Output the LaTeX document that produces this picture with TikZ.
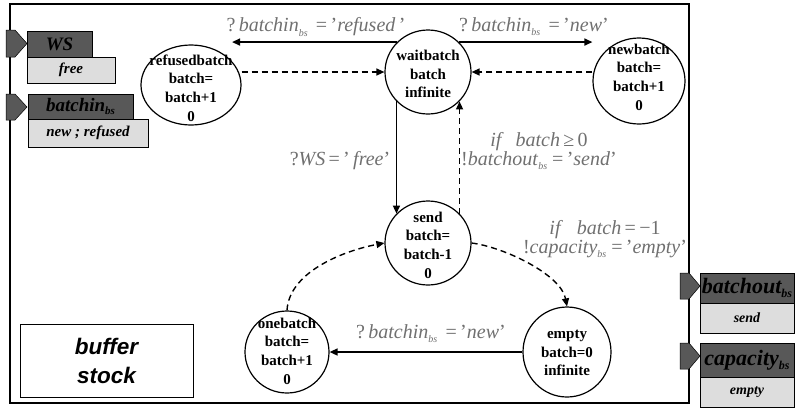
\documentclass[tikz,border=0pt]{standalone}
\usepackage{fontspec}
\setmainfont{Liberation Serif}
\setsansfont{Liberation Sans}
\usetikzlibrary{shapes.geometric,arrows.meta,calc}
\definecolor{lblgray}{RGB}{112,112,112}
\definecolor{portdark}{RGB}{88,88,88}
\definecolor{portlight}{RGB}{221,221,221}
\newcommand\bsub[1]{\raisebox{-0.45ex}{\fontsize{#1}{#1}\selectfont\itshape bs}}
\tikzset{
  state/.style={draw, ellipse, line width=1.2pt, inner sep=0pt},
  statetext/.style={align=center, inner sep=0pt, font=\bfseries\fontsize{15}{18.6}\selectfont},
  lbl/.style={text=lblgray, inner sep=0pt, align=center, font=\fontsize{20}{18}\selectfont},
  solidarrow/.style={line width=1.5pt, -{Triangle[length=8pt,width=7pt]}},
  dasharrow/.style={line width=1.4pt, dash pattern=on 6pt off 4pt, -{Triangle[length=8pt,width=7pt]}},
  pentagonport/.style={fill=portdark, draw=black, line width=0.5pt},
  porttitle/.style={fill=portdark, draw=black, line width=0.6pt, inner sep=0pt, font=\bfseries\itshape},
  portvalue/.style={fill=portlight, draw=black, line width=0.6pt, inner sep=0pt, font=\bfseries\itshape},
}
\begin{document}
\begin{tikzpicture}[x=1pt,y=-1pt]
\useasboundingbox (0,0) rectangle (800,408);
% frame
\draw[line width=2.5pt] (10,4) rectangle (689,403);

% states
\node[state, minimum width=100, minimum height=80] (refused) at (191,85) {};
\node[state, minimum width=86, minimum height=84] (wait) at (428,72) {};
\node[state, minimum width=92, minimum height=86] (newb) at (639,81) {};
\node[state, minimum width=86, minimum height=84] (send) at (428,243) {};
\node[state, minimum width=84, minimum height=82] (one) at (287,352) {};
\node[state, minimum width=88, minimum height=90] (empty) at (567,352) {};

\node[statetext] (refusedT) at (191,88) {refusedbatch\\batch=\\batch+1\\0};
\node[statetext] (waitT) at (428,74) {waitbatch\\batch\\infinite};
\node[statetext] (newbT) at (639,77) {newbatch\\batch=\\batch+1\\0};
\node[statetext] (sendT) at (428,245) {send\\batch=\\batch-1\\0};
\node[statetext] (oneT) at (287,351) {onebatch\\batch=\\batch+1\\0};
\node[statetext] (emptyT) at (567,353) {empty\\batch=0\\infinite};

% connectors
\draw[solidarrow] (wait.136) -- (wait.136 -| refused.30);
\draw[solidarrow] (wait.44) -- (wait.44 -| newb.west);
\draw[dasharrow] (wait.west -| refused.east) -- (wait.west);
\draw[dasharrow] (wait.east -| newb.west) -- (wait.east);
\draw[solidarrow] (wait.223) -- (send.137);
\draw[dasharrow] (send.43) -- (wait.-43);
\draw[dasharrow] (send.east) .. controls +(32,4) and +(-6,-32) .. (empty.north);
\draw[dasharrow] (one.north) .. controls +(2,-38) and +(-42,8) .. (send.west);
\draw[solidarrow] (empty.west) -- (one.east);

% labels
\node[lbl] (l1) at (316,27) {?\,\textit{batchin}\bsub{10}\ \,=\,'\textit{refused}\,'};
\node[lbl] (l2) at (534,27) {?\,\textit{batchin}\bsub{10}\ \,=\,'\textit{new}'};
\node[lbl] (l3) at (340,161) {?\textit{WS}\,=\,'\,\textit{free}'};
\node[lbl, font=\fontsize{20}{18}\selectfont] (l4) at (539,151) {\textit{if}\hspace{12pt}\textit{batch}\,≥\,0\\!\textit{batchout}\bsub{10}\ =\,'\textit{send}'};
\node[lbl, font=\fontsize{20}{15}\selectfont] (l5) at (605,239) {\textit{if}\hspace{14pt}\textit{batch}\,=\,−1\\!\textit{capacity}\bsub{10}\ =\,'\textit{empty}'};
\node[lbl] (l6) at (431,334) {?\,\textit{batchin}\bsub{10}\ \,=\,'\textit{new}'};

% ports left
\draw[pentagonport] (6,30) -- (15,30) -- (27,43.5) -- (15,57) -- (6,57) -- cycle;
\node[porttitle, minimum width=65, minimum height=26, font=\bfseries\itshape\fontsize{19}{19}\selectfont] (wsT) at (59.5,44) {WS};
\node[portvalue, minimum width=88, minimum height=26, font=\bfseries\itshape\fontsize{15}{15}\selectfont] (wsV) at (71,70) {free};

\draw[pentagonport] (6,94) -- (15,94) -- (27,107) -- (15,120) -- (6,120) -- cycle;
\node[porttitle, minimum width=105, minimum height=25, font=\bfseries\itshape\fontsize{19}{19}\selectfont] (biT) at (80.5,106.5) {batchin\raisebox{-0.45ex}{\fontsize{11}{11}\selectfont bs}};
\node[portvalue, minimum width=120, minimum height=28, font=\bfseries\itshape\fontsize{15}{15}\selectfont] (biV) at (88,133) {new ; refused};

% ports right
\draw[pentagonport] (680,273) -- (689,273) -- (700,286) -- (689,299) -- (680,299) -- cycle;
\node[porttitle, minimum width=94, minimum height=30, font=\bfseries\itshape\fontsize{22}{22}\selectfont] (boT) at (747,288) {batchout\raisebox{-0.45ex}{\fontsize{12}{12}\selectfont bs}};
\node[portvalue, minimum width=94, minimum height=30, font=\bfseries\itshape\fontsize{14}{14}\selectfont] (boV) at (747,318) {send};

\draw[pentagonport] (680,343) -- (689,343) -- (700,356) -- (689,369) -- (680,369) -- cycle;
\node[porttitle, minimum width=94, minimum height=34, font=\bfseries\itshape\fontsize{22}{22}\selectfont] (caT) at (747,360) {capacity\raisebox{-0.45ex}{\fontsize{12}{12}\selectfont bs}};
\node[portvalue, minimum width=94, minimum height=30, font=\bfseries\itshape\fontsize{14}{14}\selectfont] (caV) at (747,392) {empty};

% buffer stock
\node[draw=black, line width=0.6pt, fill=white, minimum width=173, minimum height=73, align=center, inner sep=0pt,
  font=\sffamily\bfseries\itshape\fontsize{22.5}{29}\selectfont] (bs) at (106.5,360.5) {buffer\\stock};
\end{tikzpicture}
\end{document}
